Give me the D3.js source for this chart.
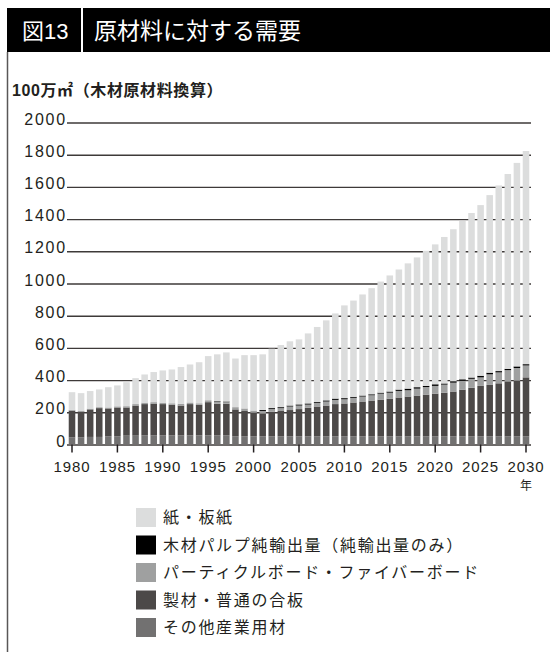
<!DOCTYPE html>
<html>
<head>
<meta charset="utf-8">
<script src="https://cdn.jsdelivr.net/npm/d3@7"></script>
<style>
body { margin: 0; background: #fff; }
svg { display: block; font-family: "Liberation Sans", "Noto Sans CJK JP", sans-serif; }
</style>
</head>
<body>
<script>
// categories
var years = d3.range(1980, 2031);

// series values, 100万㎡ (bottom to top of the stack)
var otherUse   = [45, 45, 47, 47, 51, 51, 55, 55, 56, 56,
                  57, 57, 57, 57, 57, 57, 57, 57, 51, 51,
                  51, 51, 51, 51, 51, 51, 51, 51, 51, 51,
                  51, 51, 51, 51, 51, 51, 51, 51, 51, 51,
                  51, 51, 51, 51, 51, 51, 51, 51, 51, 51, 51];
var sawnwood   = [165, 160, 171, 179, 173, 179, 175, 187, 195, 198,
                  194, 190, 185, 194, 190, 206, 196, 196, 167, 157,
                  146, 142, 152, 157, 163, 169, 177, 185, 191, 200,
                  204, 210, 216, 222, 228, 234, 241, 247, 253, 259,
                  265, 271, 278, 290, 301, 313, 319, 329, 341, 345, 366];
var panels     = [5, 5, 5, 6, 6, 7, 8, 9, 9, 9,
                  9, 9, 10, 10, 9, 12, 12, 10, 14, 16,
                  14, 15, 17, 18, 22, 22, 20, 23, 25, 26,
                  26, 29, 31, 33, 37, 37, 41, 39, 43, 47,
                  48, 50, 55, 55, 56, 53, 66, 68, 70, 79, 74];
var pulpExport = [0, 0, 0, 0, 0, 0, 0, 0, 0, 0,
                  0, 0, 0, 0, 0, 0, 4, 4, 0, 0,
                  0, 6, 6, 6, 6, 7, 7, 5, 7, 8,
                  7, 6, 6, 6, 6, 7, 8, 10, 9, 7,
                  10, 7, 9, 9, 8, 10, 10, 8, 8, 10, 8];
var paper      = [110, 109, 109, 110, 126, 130, 149, 161, 175, 187,
                  200, 210, 229, 236, 255, 274, 291, 305, 302, 331,
                  344, 346, 369, 386, 399, 404, 435, 466, 497, 529,
                  576, 598, 628, 659, 690, 721, 746, 778, 806, 839,
                  869, 910, 944, 983, 1022, 1060, 1103, 1153, 1210, 1264, 1324];

// tick labels
var yTicks = [0, 200, 400, 600, 800, 1000, 1200, 1400, 1600, 1800, 2000];
var xTicks = [1980, 1985, 1990, 1995, 2000, 2005, 2010, 2015, 2020, 2025, 2030];

var keys = ["other", "sawn", "panel", "pulp", "paper"];
var colors = {
    other: "#727171",
    sawn:  "#4c4948",
    panel: "#9fa0a0",
    pulp:  "#000000",
    paper: "#dcdddd"
};
// legend, top to bottom
var legendItems = [
    {key: "paper", label: "紙・板紙"},
    {key: "pulp",  label: "木材パルプ純輸出量（純輸出量のみ）"},
    {key: "panel", label: "パーティクルボード・ファイバーボード"},
    {key: "sawn",  label: "製材・普通の合板"},
    {key: "other", label: "その他産業用材"}
];

var table = years.map(function(yr, i) {
    return {year: yr, other: otherUse[i], sawn: sawnwood[i], panel: panels[i],
            pulp: pulpExport[i], paper: paper[i]};
});

var width = 550, height = 655;
var svg = d3.select("body").append("svg")
    .attr("width", width)
    .attr("height", height);

// header bar
svg.append("rect")
    .attr("x", 7).attr("y", 8)
    .attr("width", width - 7).attr("height", 44)
    .attr("fill", "#000");
svg.append("rect")
    .attr("x", 81).attr("y", 8)
    .attr("width", 2).attr("height", 44)
    .attr("fill", "#fff");
svg.append("text")
    .attr("x", 22).attr("y", 39)
    .attr("fill", "#fff")
    .style("font-size", "22px")
    .text("図13");
svg.append("text")
    .attr("x", 94).attr("y", 39)
    .attr("fill", "#fff")
    .style("font-size", "23px")
    .text("原材料に対する需要");

// left frame line
svg.append("line")
    .attr("x1", 7.5).attr("x2", 7.5)
    .attr("y1", 52).attr("y2", 652)
    .attr("stroke", "#595757")
    .attr("stroke-width", 1.5);

// unit label
svg.append("text")
    .attr("x", 12).attr("y", 96)
    .attr("fill", "#231f20")
    .style("font-size", "16px")
    .style("font-weight", "bold")
    .style("letter-spacing", "0.6px")
    .text("100万㎡（木材原材料換算）");

var x = d3.scaleBand()
    .domain(years)
    .range([67.46, 530.54])
    .paddingInner(0.28)
    .paddingOuter(0.14);

var y = d3.scaleLinear()
    .domain([0, 2000])
    .range([444.5, 122.5]);

// gridlines + y labels
var yAxis = svg.append("g")
    .attr("transform", "translate(67,0)")
    .call(d3.axisLeft(y).tickValues(yTicks).tickSize(-(531 - 67)).tickPadding(0)
        .tickFormat(function(d) { return String(d); }));
yAxis.select(".domain").remove();
yAxis.selectAll("line")
    .attr("stroke", "#3e3a39")
    .attr("stroke-width", 1.4);
yAxis.selectAll("text")
    .attr("dy", "0.1em")
    .attr("fill", "#231f20")
    .style("font-size", "16px")
    .style("letter-spacing", "1.8px");

// stacked bars
var stacked = d3.stack().keys(keys)(table);
svg.append("g").selectAll("g")
    .data(stacked)
    .enter().append("g")
    .attr("fill", function(d) { return colors[d.key]; })
    .selectAll("rect")
    .data(function(d) { return d; })
    .enter().append("rect")
    .attr("x", function(d) { return x(d.data.year); })
    .attr("y", function(d) { return y(d[1]); })
    .attr("width", x.bandwidth())
    .attr("height", function(d) { return y(d[0]) - y(d[1]); });

// x axis
var xAxis = svg.append("g")
    .attr("transform", "translate(0,444.5)")
    .call(d3.axisBottom(x).tickValues(xTicks).tickSize(8).tickPadding(9));
xAxis.select(".domain").remove();
xAxis.selectAll("line")
    .attr("stroke", "#231f20")
    .attr("stroke-width", 1.5);
xAxis.selectAll("text")
    .attr("fill", "#231f20")
    .style("font-size", "15px")
    .style("letter-spacing", "0.9px");

svg.append("text")
    .attr("x", x(2030) + x.bandwidth() / 2)
    .attr("y", 490)
    .attr("text-anchor", "middle")
    .attr("fill", "#231f20")
    .style("font-size", "12px")
    .text("年");

// legend
var legend = svg.append("g").selectAll("g")
    .data(legendItems)
    .enter().append("g")
    .attr("transform", function(d, i) { return "translate(136," + (508 + i * 27.5) + ")"; });
legend.append("rect")
    .attr("width", 20).attr("height", 19)
    .attr("fill", function(d) { return colors[d.key]; });
legend.append("text")
    .attr("x", 27).attr("y", 9.5)
    .attr("dy", "0.36em")
    .attr("fill", "#231f20")
    .style("font-size", "16px")
    .style("letter-spacing", "1.7px")
    .text(function(d) { return d.label; });
</script>
</body>
</html>
